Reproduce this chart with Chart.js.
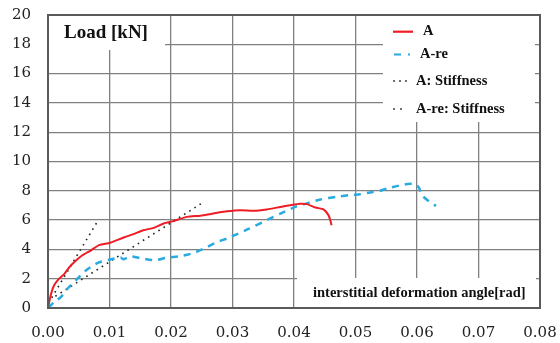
<!DOCTYPE html>
<html><head><meta charset="utf-8">
<script src="https://cdn.jsdelivr.net/npm/chart.js@4/dist/chart.umd.min.js"></script>
<style>html,body{margin:0;padding:0;background:#fff}#wrap{width:560px;height:343px}</style>
</head><body><div id="wrap"><canvas id="c" width="560" height="343"></canvas></div>
<script>
// Series A (red)
const aX = [0, 0.0005, 0.001, 0.0018, 0.0027, 0.0035, 0.0046, 0.0056, 0.007, 0.0083, 0.0101, 0.0123, 0.0139, 0.0155, 0.0172, 0.0188, 0.0204, 0.0226, 0.0248, 0.0269, 0.0291, 0.0313, 0.0334, 0.0356, 0.0378, 0.0394, 0.041, 0.0421, 0.0435, 0.0448, 0.0456, 0.0459, 0.0461];
const aY = [0, 0.98, 1.55, 2.0, 2.35, 2.8, 3.26, 3.6, 3.94, 4.29, 4.45, 4.81, 5.04, 5.31, 5.47, 5.77, 5.93, 6.22, 6.3, 6.45, 6.6, 6.68, 6.63, 6.73, 6.9, 7.02, 7.12, 7.09, 6.86, 6.73, 6.34, 6.0, 5.65];
// Series A-re (blue)
const reX = [0, 0.001, 0.0021, 0.0032, 0.0048, 0.0062, 0.0081, 0.0101, 0.0118, 0.0123, 0.0134, 0.0153, 0.0174, 0.0193, 0.0215, 0.0237, 0.0256, 0.0275, 0.0291, 0.0324, 0.0356, 0.0378, 0.0405, 0.0421, 0.0443, 0.047, 0.0489, 0.0508, 0.0524, 0.054, 0.0551, 0.0567, 0.0584, 0.0597, 0.0603, 0.0608, 0.0622, 0.0631];
const reY = [0, 0.41, 0.75, 1.33, 2.0, 2.58, 3.08, 3.31, 3.44, 3.33, 3.53, 3.38, 3.26, 3.44, 3.53, 3.76, 4.1, 4.51, 4.74, 5.36, 6.0, 6.45, 6.95, 7.14, 7.41, 7.6, 7.7, 7.77, 7.89, 8.0, 8.16, 8.32, 8.46, 8.46, 8.23, 7.7, 7.2, 6.97];
// Stiffness lines
const aStiffX = [0.0006, 0.0081];
const aStiffY = [0.7, 5.95];
const reStiffX = [0.0012, 0.0250];
const reStiffY = [0.8, 7.15];
// Axis ticks
const xTicks = [0, 0.01, 0.02, 0.03, 0.04, 0.05, 0.06, 0.07, 0.08];
const yTicks = [0, 2, 4, 6, 8, 10, 12, 14, 16, 18, 20];
const labels = ['A', 'A-re', 'A: Stiffness', 'A-re: Stiffness'];
const yTitle = 'Load [kN]';
const xTitle = 'interstitial deformation angle[rad]';

const RED = '#ee1c25', BLUE = '#29aae1';
const pts = (xs, ys) => xs.map((x, i) => ({x: x, y: ys[i]}));

const boxes = {
  id: 'boxes',
  beforeDatasetsDraw(chart) {
    const ctx = chart.ctx;
    ctx.save();
    ctx.fillStyle = '#fff';
    ctx.fillRect(49, 16, 116, 34);
    ctx.fillRect(383, 16, 152, 106);
    ctx.fillRect(297, 278, 239, 29);
    ctx.restore();
  },
  afterDatasetsDraw(chart) {
    const ctx = chart.ctx, ca = chart.chartArea;
    ctx.save();
    ctx.strokeStyle = '#5a5a5a';
    ctx.lineWidth = 2;
    ctx.strokeRect(ca.left, ca.top, ca.right - ca.left, ca.bottom - ca.top);
    ctx.fillStyle = '#111';
    ctx.textBaseline = 'middle';
    ctx.font = 'bold 19px "Liberation Serif"';
    ctx.fillText(yTitle, 64, 33);
    ctx.font = 'bold 14.5px "Liberation Serif"';
    ctx.fillText(xTitle, 313, 293);
    // legend
    const rows = [31.7, 54.5, 81, 109];
    const tx = [423, 420, 416, 416];
    ctx.font = 'bold 14.5px "Liberation Serif"';
    labels.forEach((l, i) => ctx.fillText(l, tx[i], rows[i]));
    ctx.lineWidth = 2.2;
    ctx.strokeStyle = RED;
    ctx.beginPath(); ctx.moveTo(393, rows[0]); ctx.lineTo(413, rows[0]); ctx.stroke();
    ctx.strokeStyle = BLUE;
    ctx.beginPath(); ctx.moveTo(394, rows[1]); ctx.lineTo(401, rows[1]); ctx.moveTo(408, rows[1]); ctx.lineTo(410, rows[1]); ctx.stroke();
    ctx.fillStyle = '#222';
    [394, 400, 406].forEach(x => ctx.fillRect(x - 0.8, rows[2] - 0.8, 1.6, 1.6));
    [394, 401].forEach(x => ctx.fillRect(x - 0.8, rows[3] - 0.8, 1.6, 1.6));
    ctx.restore();
  }
};

new Chart(document.getElementById('c'), {
  type: 'scatter',
  data: {
    datasets: [
      {label: labels[0], data: pts(aX, aY), showLine: true, borderColor: RED, borderWidth: 2, pointRadius: 0, tension: 0.2},
      {label: labels[1], data: pts(reX, reY), showLine: true, borderColor: BLUE, borderWidth: 2.5, borderDash: [7, 6], pointRadius: 0, tension: 0.2},
      {label: labels[2], data: pts(aStiffX, aStiffY), showLine: true, borderColor: '#222', borderWidth: 1.6, borderDash: [1.6, 4.5], pointRadius: 0},
      {label: labels[3], data: pts(reStiffX, reStiffY), showLine: true, borderColor: '#222', borderWidth: 1.6, borderDash: [1.6, 4.5], pointRadius: 0}
    ]
  },
  options: {
    responsive: false,
    animation: false,
    layout: {padding: {top: 15, right: 20, left: 0, bottom: 0}},
    plugins: {legend: {display: false}, tooltip: {enabled: false}},
    scales: {
      x: {
        type: 'linear', min: 0, max: 0.08,
        afterBuildTicks: s => { s.ticks = xTicks.map(v => ({value: v})); },
        afterFit: s => { s.height = 35; },
        grid: {color: '#808080', lineWidth: 1.3, drawTicks: true, tickLength: 14, tickColor: 'rgba(0,0,0,0)'},
        border: {display: false},
        ticks: {padding: 2, color: '#222', font: {family: '"DejaVu Serif"', size: 15}, callback: v => v.toFixed(2), maxRotation: 0}
      },
      y: {
        type: 'linear', min: 0, max: 20,
        afterBuildTicks: s => { s.ticks = yTicks.map(v => ({value: v})); },
        afterFit: s => { s.width = 48; },
        grid: {color: '#808080', lineWidth: 1.3, drawTicks: true, tickLength: 11, tickColor: 'rgba(0,0,0,0)'},
        border: {display: false},
        ticks: {padding: 6, color: '#222', font: {family: '"DejaVu Serif"', size: 15}}
      }
    }
  },
  plugins: [boxes]
});
</script></body></html>
